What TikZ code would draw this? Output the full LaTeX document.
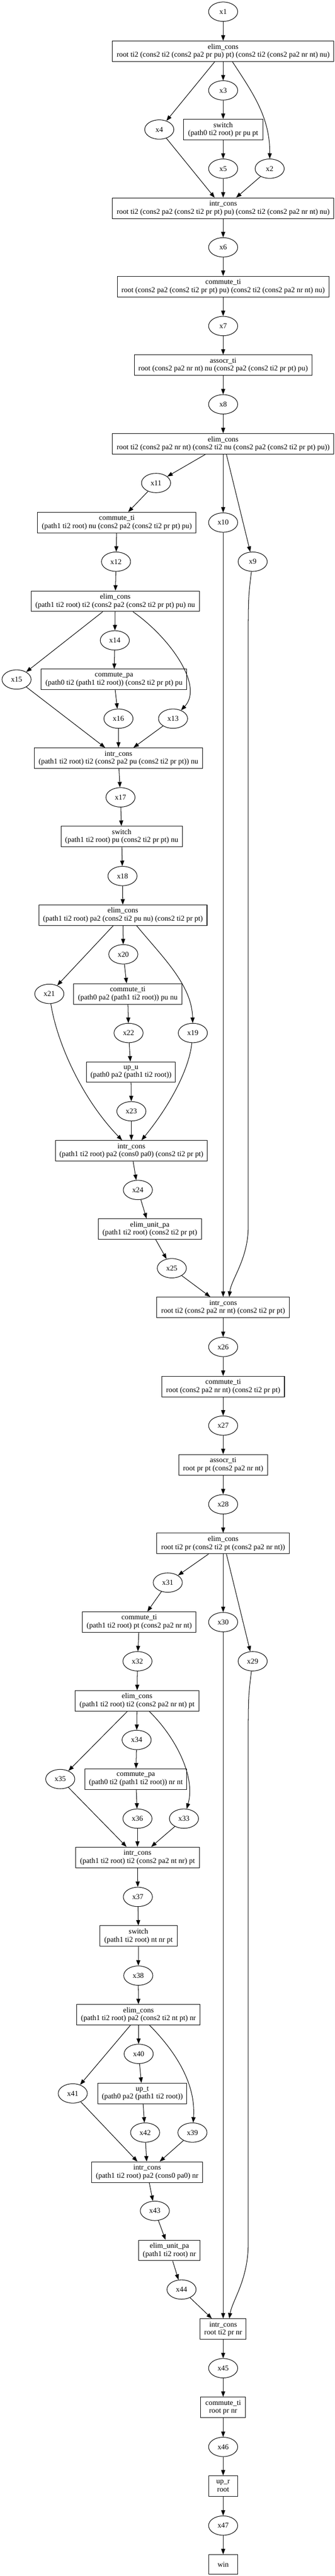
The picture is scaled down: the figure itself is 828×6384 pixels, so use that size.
\documentclass[tikz,border=0pt]{standalone}
\usepackage{fontspec}
\setmainfont{Liberation Serif}
\usetikzlibrary{arrows.meta,shapes.geometric}
\begin{document}
\begin{tikzpicture}[x=1pt,y=-1pt,
  every node/.style={font=\fontsize{18.4pt}{20pt}\selectfont},
  ell/.style={draw, ellipse, minimum width=72pt, minimum height=48pt, inner sep=0pt, line width=1.3pt},
  bx/.style={draw, rectangle, minimum height=51pt, inner xsep=4pt, inner ysep=2pt, align=center, line width=1.3pt},
  edg/.style={-{Triangle[length=13.5pt,width=10pt]}, line width=1.3pt}]
\useasboundingbox (0,0) rectangle (828,6384);

% ---------- nodes ----------
\node[ell] (x1) at (552,29) {x1};
\node[bx,minimum width=548pt] (e1) at (552,127) {elim\_cons\\root ti2 (cons2 ti2 (cons2 pa2 pr pu) pt) (cons2 ti2 (cons2 pa2 nr nt) nu)};
\node[ell] (x3) at (552,224) {x3};
\node[ell] (x4) at (394,321) {x4};
\node[bx,minimum width=196pt] (s1) at (552,321) {switch\\(path0 ti2 root) pr pu pt};
\node[ell] (x5) at (552,418) {x5};
\node[ell] (x2) at (667,418) {x2};
\node[bx,minimum width=548pt] (i1) at (552,516) {intr\_cons\\root ti2 (cons2 pa2 (cons2 ti2 pr pt) pu) (cons2 ti2 (cons2 pa2 nr nt) nu)};
\node[ell] (x6) at (552,613) {x6};
\node[bx,minimum width=524pt] (c1) at (552,710) {commute\_ti\\root (cons2 pa2 (cons2 ti2 pr pt) pu) (cons2 ti2 (cons2 pa2 nr nt) nu)};
\node[ell] (x7) at (552,808) {x7};
\node[bx,minimum width=440pt] (a1) at (552,905) {assocr\_ti\\root (cons2 pa2 nr nt) nu (cons2 pa2 (cons2 ti2 pr pt) pu)};
\node[ell] (x8) at (552,1002) {x8};
\node[bx,minimum width=548pt] (e2) at (552,1100) {elim\_cons\\root ti2 (cons2 pa2 nr nt) (cons2 ti2 nu (cons2 pa2 (cons2 ti2 pr pt) pu))};
\node[ell] (x11) at (386,1197) {x11};
\node[bx,minimum width=392pt] (c2) at (289,1295) {commute\_ti\\(path1 ti2 root) nu (cons2 pa2 (cons2 ti2 pr pt) pu)};
\node[ell] (x10) at (552,1295) {x10};
\node[ell] (x12) at (287,1392) {x12};
\node[ell] (x9) at (625,1392) {x9};
\node[bx,minimum width=416pt] (e3) at (285,1490) {elim\_cons\\(path1 ti2 root) ti2 (cons2 pa2 (cons2 ti2 pr pt) pu) nu};
\node[ell] (x14) at (284,1587) {x14};
\node[ell] (x15) at (41,1684) {x15};
\node[bx,minimum width=360pt] (cp1) at (282,1684) {commute\_pa\\(path0 ti2 (path1 ti2 root)) (cons2 ti2 pr pt) pu};
\node[ell] (x16) at (293,1781) {x16};
\node[ell] (x13) at (428,1781) {x13};
\node[bx,minimum width=416pt] (i2) at (293,1879) {intr\_cons\\(path1 ti2 root) ti2 (cons2 pa2 pu (cons2 ti2 pr pt)) nu};
\node[ell] (x17) at (298,1976) {x17};
\node[bx,minimum width=300pt] (s2) at (301,2073) {switch\\(path1 ti2 root) pu (cons2 ti2 pr pt) nu};
\node[ell] (x18) at (303,2171) {x18};
\node[bx,minimum width=416pt] (e4) at (304,2268) {elim\_cons\\(path1 ti2 root) pa2 (cons2 ti2 pu nu) (cons2 ti2 pr pt)};
\node[ell] (x20) at (305,2365) {x20};
\node[ell] (x21) at (122,2463) {x21};
\node[bx,minimum width=268pt] (c3) at (316,2463) {commute\_ti\\(path0 pa2 (path1 ti2 root)) pu nu};
\node[ell] (x22) at (318,2560) {x22};
\node[ell] (x19) at (477,2560) {x19};
\node[bx,minimum width=220pt] (uu) at (324,2657) {up\_u\\(path0 pa2 (path1 ti2 root))};
\node[ell] (x23) at (325,2754) {x23};
\node[bx,minimum width=376pt] (i3) at (325,2852) {intr\_cons\\(path1 ti2 root) pa2 (cons0 pa0) (cons2 ti2 pr pt)};
\node[ell] (x24) at (341,2949) {x24};
\node[bx,minimum width=255pt] (eu1) at (370.5,3046) {elim\_unit\_pa\\(path1 ti2 root) (cons2 ti2 pr pt)};
\node[ell] (x25) at (425,3143) {x25};
\node[bx,minimum width=328pt] (i4) at (552,3240) {intr\_cons\\root ti2 (cons2 pa2 nr nt) (cons2 ti2 pr pt)};
\node[ell] (x26) at (552,3338) {x26};
\node[bx,minimum width=303pt] (c4) at (552,3436) {commute\_ti\\root (cons2 pa2 nr nt) (cons2 ti2 pr pt)};
\node[ell] (x27) at (552,3533) {x27};
\node[bx,minimum width=220pt] (a2) at (552,3630) {assocr\_ti\\root pr pt (cons2 pa2 nr nt)};
\node[ell] (x28) at (552,3728) {x28};
\node[bx,minimum width=328pt] (e5) at (552,3825) {elim\_cons\\root ti2 pr (cons2 ti2 pt (cons2 pa2 nr nt))};
\node[ell] (x31) at (415,3922) {x31};
\node[bx,minimum width=281pt] (c5) at (344.5,4020) {commute\_ti\\(path1 ti2 root) pt (cons2 pa2 nr nt)};
\node[ell] (x30) at (552,4020) {x30};
\node[ell] (x32) at (340,4117) {x32};
\node[ell] (x29) at (625,4117) {x29};
\node[bx,minimum width=306pt] (e6) at (339,4215) {elim\_cons\\(path1 ti2 root) ti2 (cons2 pa2 nr nt) pt};
\node[ell] (x34) at (338,4312) {x34};
\node[ell] (x35) at (149,4409) {x35};
\node[bx,minimum width=252pt] (cp2) at (336,4409) {commute\_pa\\(path0 ti2 (path1 ti2 root)) nr nt};
\node[ell] (x36) at (340,4507) {x36};
\node[ell] (x33) at (455,4507) {x33};
\node[bx,minimum width=306pt] (i5) at (340,4603) {intr\_cons\\(path1 ti2 root) ti2 (cons2 pa2 nt nr) pt};
\node[ell] (x37) at (341,4701) {x37};
\node[bx,minimum width=191pt] (s3) at (342.5,4798) {switch\\(path1 ti2 root) nt nr pt};
\node[ell] (x38) at (342,4896) {x38};
\node[bx,minimum width=305pt] (e7) at (342.5,4993) {elim\_cons\\(path1 ti2 root) pa2 (cons2 ti2 nt pt) nr};
\node[ell] (x40) at (343,5090) {x40};
\node[ell] (x41) at (180,5188) {x41};
\node[bx,minimum width=220pt] (ut) at (352,5188) {up\_t\\(path0 pa2 (path1 ti2 root))};
\node[ell] (x42) at (359,5285) {x42};
\node[ell] (x39) at (476,5285) {x39};
\node[bx,minimum width=274pt] (i6) at (364,5383) {intr\_cons\\(path1 ti2 root) pa2 (cons0 pa0) nr};
\node[ell] (x43) at (383,5479) {x43};
\node[bx,minimum width=152pt] (eu2) at (419,5577) {elim\_unit\_pa\\(path1 ti2 root) nr};
\node[ell] (x44) at (449,5674) {x44};
\node[bx,minimum width=114pt] (i7) at (552,5772) {intr\_cons\\root ti2 pr nr};
\node[ell] (x45) at (552,5869) {x45};
\node[bx,minimum width=111pt] (c6) at (552,5966) {commute\_ti\\root pr nr};
\node[ell] (x46) at (552,6064) {x46};
\node[bx,minimum width=72pt] (ur) at (552,6161) {up\_r\\root};
\node[ell] (x47) at (552,6259) {x47};
\node[bx,minimum width=72pt,minimum height=48pt] (win) at (552,6355) {win};

% ---------- edges ----------
\draw[edg] (x1) -- (e1);
\draw[edg] ([xshift=-21pt]e1.south) -- (x4);
\draw[edg] (e1) -- (x3);
\draw[edg] ([xshift=23pt]e1.south) .. controls (625,230) and (668,290) .. (x2);
\draw[edg] (x3) -- (s1);
\draw[edg] (s1) -- (x5);
\draw[edg] (x4) -- ([xshift=-21pt]i1.north);
\draw[edg] (x5) -- (i1);
\draw[edg] (x2) -- ([xshift=32pt]i1.north);
\draw[edg] (i1) -- (x6);
\draw[edg] (x6) -- (c1);
\draw[edg] (c1) -- (x7);
\draw[edg] (x7) -- (a1);
\draw[edg] (a1) -- (x8);
\draw[edg] (x8) -- (e2);
\draw[edg] ([xshift=-44pt]e2.south) -- (x11);
\draw[edg] (e2) -- (x10);
\draw[edg] ([xshift=8pt]e2.south) -- (x9);
\draw[edg] (x11) -- ([xshift=28pt]c2.north);
\draw[edg] (c2) -- (x12);
\draw[edg] (x12) -- (e3);
\draw[edg] ([xshift=-31pt]e3.south) -- (x15);
\draw[edg] (e3) -- (x14);
\draw[edg] ([xshift=44pt]e3.south) .. controls (420,1580) and (505,1700) .. (x13);
\draw[edg] (x14) -- (cp1);
\draw[edg] (cp1) -- (x16);
\draw[edg] (x15) -- ([xshift=-33pt]i2.north);
\draw[edg] (x16) -- (i2);
\draw[edg] (x13) -- ([xshift=37pt]i2.north);
\draw[edg] (i2) -- (x17);
\draw[edg] (x17) -- (s2);
\draw[edg] (s2) -- (x18);
\draw[edg] (x18) -- (e4);
\draw[edg] ([xshift=-24pt]e4.south) -- (x21);
\draw[edg] (e4) -- (x20);
\draw[edg] ([xshift=34pt]e4.south) .. controls (400,2370) and (475,2440) .. (x19);
\draw[edg] (x20) -- (c3);
\draw[edg] (c3) -- (x22);
\draw[edg] (x22) -- (uu);
\draw[edg] (uu) -- (x23);
\draw[edg] (x23) -- (i3);
\draw[edg] (x21) .. controls (140,2580) and (200,2720) .. ([xshift=-23pt]i3.north);
\draw[edg] (x19) .. controls (468,2650) and (420,2740) .. ([xshift=25pt]i3.north);
\draw[edg] (i3) -- (x24);
\draw[edg] (x24) -- (eu1);
\draw[edg] (eu1) -- (x25);
\draw[edg] (x25) -- ([xshift=-32pt]i4.north);
\draw[edg] (x10) -- (i4);
\draw[edg] (x9) .. controls (614,1480) .. (614,1620) -- (614,3040) .. controls (614,3120) and (572,3170) .. ([xshift=15pt]i4.north);
\draw[edg] (i4) -- (x26);
\draw[edg] (x26) -- (c4);
\draw[edg] (c4) -- (x27);
\draw[edg] (x27) -- (a2);
\draw[edg] (a2) -- (x28);
\draw[edg] (x28) -- (e5);
\draw[edg] ([xshift=-36pt]e5.south) -- (x31);
\draw[edg] (e5) -- (x30);
\draw[edg] ([xshift=8pt]e5.south) -- (x29);
\draw[edg] (x31) -- ([xshift=20pt]c5.north);
\draw[edg] (c5) -- (x32);
\draw[edg] (x32) -- (e6);
\draw[edg] ([xshift=-24pt]e6.south) -- (x35);
\draw[edg] (e6) -- (x34);
\draw[edg] ([xshift=30pt]e6.south) .. controls (430,4300) and (485,4400) .. (x33);
\draw[edg] (x34) -- (cp2);
\draw[edg] (cp2) -- (x36);
\draw[edg] (x36) -- (i5);
\draw[edg] (x35) -- ([xshift=-27pt]i5.north);
\draw[edg] (x33) -- ([xshift=34pt]i5.north);
\draw[edg] (i5) -- (x37);
\draw[edg] (x37) -- (s3);
\draw[edg] (s3) -- (x38);
\draw[edg] (x38) -- (e7);
\draw[edg] ([xshift=-20pt]e7.south) -- (x41);
\draw[edg] (e7) -- (x40);
\draw[edg] ([xshift=27.5pt]e7.south) .. controls (430,5080) and (485,5160) .. (x39);
\draw[edg] (x40) -- (ut);
\draw[edg] (ut) -- (x42);
\draw[edg] (x42) -- (i6);
\draw[edg] (x41) -- ([xshift=-24pt]i6.north);
\draw[edg] (x39) -- ([xshift=31pt]i6.north);
\draw[edg] (i6) -- (x43);
\draw[edg] (x43) -- (eu2);
\draw[edg] (eu2) -- (x44);
\draw[edg] (x44) -- ([xshift=-28pt]i7.north);
\draw[edg] (x30) -- (i7);
\draw[edg] (x29) .. controls (614,4205) .. (614,4345) -- (614,5560) .. controls (614,5650) and (575,5700) .. ([xshift=15pt]i7.north);
\draw[edg] (i7) -- (x45);
\draw[edg] (x45) -- (c6);
\draw[edg] (c6) -- (x46);
\draw[edg] (x46) -- (ur);
\draw[edg] (ur) -- (x47);
\draw[edg] (x47) -- (win);
\end{tikzpicture}
\end{document}
